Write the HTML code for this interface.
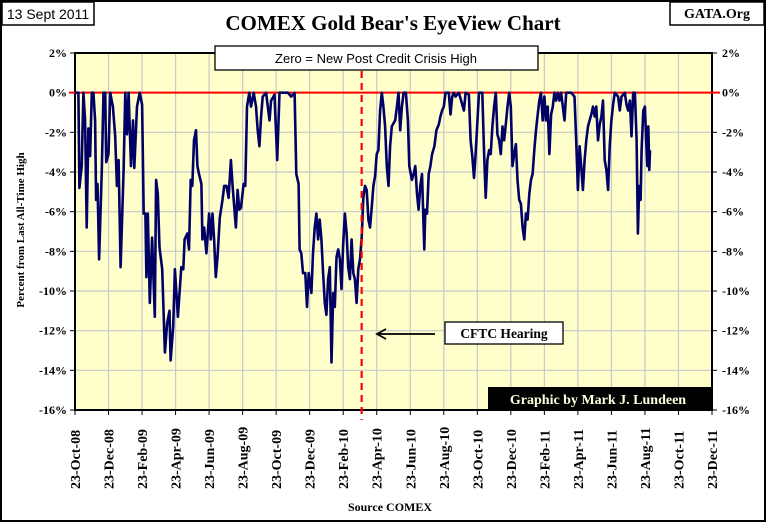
<!DOCTYPE html>
<html><head><meta charset="utf-8"><style>
html,body{margin:0;padding:0;background:#fff;}
svg{display:block;}
.t{font-family:"Liberation Serif",serif;font-weight:bold;}
.s{font-family:"Liberation Sans",sans-serif;}
</style></head><body>
<svg id="chart" width="768" height="523" viewBox="0 0 768 523" xmlns="http://www.w3.org/2000/svg">
<rect x="1" y="1" width="764" height="520" fill="#fff" stroke="#000" stroke-width="2"/>
<rect x="2" y="2" width="92" height="23" fill="#fff" stroke="#000" stroke-width="1.5"/>
<text x="48" y="19" text-anchor="middle" class="s" font-size="14">13 Sept 2011</text>
<rect x="670" y="2" width="94" height="23" fill="#fff" stroke="#000" stroke-width="1.5"/>
<text x="717" y="18" text-anchor="middle" class="t" font-size="14">GATA.Org</text>
<text x="393" y="30" text-anchor="middle" class="t" font-size="21">COMEX Gold Bear's EyeView Chart</text>
<g id="plot"></g>
<text transform="translate(24,230) rotate(-90)" text-anchor="middle" class="t" font-size="11">Percent from Last All-Time High</text>
<text x="390" y="511" text-anchor="middle" class="t" font-size="12">Source COMEX</text>
</svg>
<script>
const yTicks=[2,0,-2,-4,-6,-8,-10,-12,-14,-16];
const xTickLabels=["23-Oct-08","23-Dec-08","23-Feb-09","23-Apr-09","23-Jun-09","23-Aug-09","23-Oct-09","23-Dec-09","23-Feb-10","23-Apr-10","23-Jun-10","23-Aug-10","23-Oct-10","23-Dec-10","23-Feb-11","23-Apr-11","23-Jun-11","23-Aug-11","23-Oct-11","23-Dec-11"];
const months=[0,0.2,0.26,0.4,0.5,0.6,0.7,0.8,0.9,1.0,1.1,1.2,1.26,1.34,1.44,1.6,1.7,1.8,1.86,2.0,2.1,2.26,2.4,2.5,2.6,2.72,2.9,3.0,3.1,3.2,3.34,3.46,3.54,3.7,3.86,4.0,4.1,4.2,4.26,4.34,4.46,4.6,4.76,4.84,4.94,5.04,5.2,5.36,5.5,5.64,5.7,5.86,5.96,6.14,6.34,6.46,6.54,6.7,6.8,6.9,7.0,7.1,7.22,7.3,7.4,7.54,7.6,7.7,7.84,8.0,8.1,8.2,8.3,8.4,8.5,8.64,8.8,8.9,9.04,9.16,9.3,9.4,9.5,9.6,9.7,9.8,9.9,10.06,10.16,10.26,10.4,10.5,10.66,10.8,10.9,11.0,11.1,11.2,11.4,11.6,11.7,11.9,12.06,12.2,12.4,12.7,12.9,13.1,13.2,13.34,13.4,13.5,13.6,13.74,13.84,13.94,14.1,
14.2,14.3,14.4,14.5,14.6,14.7,14.8,14.9,15.0,15.1,15.2,15.3,15.4,15.5,15.6,15.7,15.8,15.9,16.0,16.1,16.2,16.3,16.4,16.5,16.6,16.7,16.8,16.9,17.0,17.1,17.2,17.3,17.4,17.5,17.6,17.7,17.8,17.9,18.0,18.1,18.2,18.3,18.4,18.5,18.6,18.7,18.8,18.9,19.1,19.2,19.3,19.4,19.5,19.6,19.74,19.86,19.94,20.1,20.2,20.3,20.4,20.5,20.6,20.7,20.84,20.9,21.0,21.1,21.2,21.3,21.44,21.56,21.7,21.8,21.9,22.0,22.1,22.3,22.4,22.5,22.6,22.7,22.9,23.2,23.3,23.5,23.6,23.7,23.8,23.9,24.1,24.3,24.4,24.5,24.6,24.7,24.8,24.9,25.0,25.1,25.2,25.3,25.4,25.5,
25.6,25.7,25.8,25.9,26.0,26.1,26.2,26.3,26.4,26.5,26.6,26.7,26.8,26.9,27.0,27.1,27.2,27.3,27.4,27.5,27.6,27.7,27.8,27.9,28.0,28.1,28.2,28.3,28.4,28.5,28.6,28.7,28.8,28.9,29.0,29.2,29.3,29.6,29.8,29.9,30.0,30.1,30.2,30.3,30.4,30.5,30.6,30.7,30.8,30.9,31.0,31.1,31.2,31.3,31.4,31.5,31.6,31.7,31.8,31.9,32.0,32.1,32.2,32.4,32.5,32.6,32.8,32.9,33.0,33.1,33.2,33.3,33.4,33.5,33.58,33.66,33.74,33.8,33.9,34.0,34.06,34.14,34.2,34.26,34.3];
const pct=[0,0,-4.8,-3.7,0,-1.4,-6.8,-1.8,-3.2,0,0,-1.4,-5.4,-4.6,-8.4,-3.9,0,0,-3.5,-3.1,0,-0.7,-2.2,-4.7,-3.4,-8.8,-3.9,0,-2.1,0,-3.7,-1.4,-3.8,-0.7,0,-0.6,-6.1,-6.1,-9.3,-6.1,-10.6,-7.3,-11.3,-4.4,-5.1,-7.8,-8.9,-13.1,-11.6,-11.0,-13.5,-11.8,-8.9,-11.3,-8.8,-8.9,-7.4,-7.1,-7.9,-4.4,-4.7,-2.4,-1.9,-3.7,-4.1,-4.6,-7.4,-6.8,-8.1,-6.1,-7.4,-6.1,-7.4,-9.3,-8.3,-6.3,-5.4,-4.7,-4.7,-5.3,-3.4,-4.7,-5.8,-6.8,-4.9,-5.9,-5.8,-4.6,-4.7,-0.7,0,-0.7,0,-0.7,-1.9,-2.7,-1.2,-0.2,0,-1.4,-0.4,-0.1,-3.4,0,0,0,-0.2,0,-4.1,-4.6,-7.9,-8.1,-9.1,-9.1,-10.8,-9.1,-10.1,
-8.1,-6.8,-6.1,-7.4,-6.4,-7.4,-9.1,-10.6,-11.2,-9.4,-8.8,-13.6,-10.1,-10.8,-8.3,-7.9,-8.4,-9.9,-7.6,-6.1,-7.1,-8.8,-9.4,-7.4,-9.1,-9.4,-10.6,-8.9,-8.4,-7.3,-5.3,-4.7,-4.9,-6.4,-6.8,-5.8,-4.7,-4.2,-3.1,-2.9,-0.9,0,-0.7,-1.7,-3.7,-4.7,-2.7,-1.7,-1.4,-0.7,0,-1.9,-0.7,0,0,-1.4,-3.7,-4.4,-4.1,-3.7,-5.1,-5.9,-4.7,-4.1,-7.9,-5.9,-6.1,-4.1,-3.7,-3.1,-2.7,-1.9,-1.6,-1.2,-0.9,-0.7,0,0,-1.1,-0.2,0,-0.2,0,-0.9,0,-0.1,-2.4,-3.2,-4.3,-3.1,0,0,-2.9,-5.3,-3.4,-2.9,-3.1,-1.7,-0.7,0,-2.1,-2.4,-3.1,-1.7,
-2.4,-1.6,-0.7,0,-0.7,-3.7,-3.1,-2.6,-4.4,-5.4,-5.6,-6.8,-7.4,-6.1,-6.4,-5.1,-4.4,-4.1,-2.9,-1.9,-1.1,-0.4,0,-1.4,-0.2,-1.4,-0.7,-3.1,-1.1,-0.7,0,-0.4,0,-0.4,0,-1.4,0,0,-0.2,-2.4,-4.9,-2.7,-3.7,-4.9,-3.4,-2.4,-1.7,-1.4,-1.1,-0.7,-1.2,-0.7,-2.4,-1.6,-1.2,-0.4,-3.4,-3.9,-4.9,-2.7,-1.4,-0.6,0,-0.2,-0.9,-0.2,0,-0.6,-0.9,-0.4,-2.2,0,0,-2.4,-7.1,-4.7,-5.4,-2.9,-0.9,-0.7,-2.2,-3.7,-1.7,-3.9,-2.9];
const cftcMonth=17.1;

const L=75,R=712,T=53,B=410,yMax=2,yMin=-16,mMax=38;
function xs(m){return L+(R-L)*m/mMax;}
function ys(v){return T+(B-T)*(yMax-v)/(yMax-yMin);}
const NS="http://www.w3.org/2000/svg";
const g=document.getElementById('plot');
function mk(tag,attrs,parent){const e=document.createElementNS(NS,tag);for(const k in attrs)e.setAttribute(k,attrs[k]);(parent||g).appendChild(e);return e;}

const bg=mk('rect',{x:L,y:T,width:R-L,height:B-T,fill:'#ffffcc'});



yTicks.forEach(v=>{
  const y=ys(v);
  const gl=mk('line',{x1:L,x2:R,y1:y,y2:y,stroke:'#c8c8c8','stroke-width':1.2});
  
  
  const tl=mk('text',{x:L-8,y:y+4,'text-anchor':'end','font-size':12,class:'t'});
  tl.textContent=v+'%';
  
  
  const tr=mk('text',{x:R+10,y:y+4,'text-anchor':'start','font-size':12,class:'t'});
  tr.textContent=v+'%';
  
  
  mk('line',{x1:L-5,x2:L,y1:y,y2:y,stroke:'#000'});
  mk('line',{x1:R,x2:R+5,y1:y,y2:y,stroke:'#000'});
});
xTickLabels.forEach((lab,i)=>{
  const x=xs(i*2);
  const gl=mk('line',{x1:x,x2:x,y1:T,y2:B,stroke:'#c8c8c8','stroke-width':1.2});
  
  
  mk('line',{x1:x,x2:x,y1:B,y2:B+5,stroke:'#000'});
  const t=mk('text',{transform:`translate(${x+5},${B+79}) rotate(-90)`,'text-anchor':'start','font-size':14,class:'t'});
  t.textContent=lab;
  
  
});
const ax=mk('rect',{x:L,y:T,width:R-L,height:B-T,fill:'none',stroke:'#000','stroke-width':2});



const zl=mk('line',{x1:L-6,x2:R+8,y1:ys(0),y2:ys(0),stroke:'#ff0000','stroke-width':2});



let d='';
months.forEach((m,i)=>{d+=(i?'L':'M')+xs(m).toFixed(1)+','+ys(pct[i]).toFixed(1);});
const line=mk('path',{d:d,fill:'none',stroke:'#000066','stroke-width':2.6,'stroke-linejoin':'round'});



const cx=xs(cftcMonth);
const vl=mk('line',{x1:cx,x2:cx,y1:T+18,y2:B+10,stroke:'#ff0000','stroke-width':2.2,'stroke-dasharray':'7,5'});



const zb=mk('rect',{x:215,y:46,width:323,height:24,fill:'#fff',stroke:'#000','stroke-width':1.3});


const zt=mk('text',{x:376,y:63,'text-anchor':'middle','font-size':13,class:'s'});
zt.textContent='Zero = New Post Credit Crisis High';



const ar=mk('path',{d:'M435,334 L378,334 M386,329 L377,334 L386,339',fill:'none',stroke:'#000','stroke-width':1.8});


const cb=mk('rect',{x:445,y:322,width:118,height:22,fill:'#fff',stroke:'#000','stroke-width':1.3});


const ct=mk('text',{x:504,y:338,'text-anchor':'middle','font-size':13.5,class:'t'});
ct.textContent='CFTC Hearing';



const gb=mk('rect',{x:488,y:387,width:223,height:23,fill:'#000'});


const gt=mk('text',{x:598,y:404,'text-anchor':'middle','font-size':14,class:'t',fill:'#ffffdd'});
gt.textContent='Graphic by Mark J. Lundeen';


</script>
</body></html>
